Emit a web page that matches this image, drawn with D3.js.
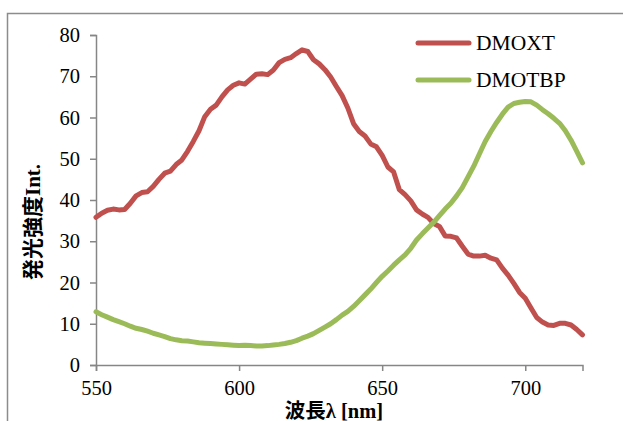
<!DOCTYPE html>
<html>
<head>
<meta charset="utf-8">
<script src="https://cdn.jsdelivr.net/npm/d3@7"></script>
<style>
  body { margin: 0; background: #fff; }
  svg text { font-family: "Liberation Serif", "Times New Roman", "DejaVu Serif", "Noto Sans CJK JP", serif; fill: #000; }
</style>
</head>
<body>
<div id="chart"></div>
<script>
// wavelength, 2nm steps
var wavelengths = d3.range(550, 722, 2);

var dmoxt = [35.8, 36.8, 37.5, 37.8, 37.6, 37.7, 39.2, 41.0, 41.8, 42.0,
    43.3, 45.0, 46.5, 47.0, 48.6, 49.7, 51.8, 54.2, 56.8, 60.2,
    62.0, 63.0, 65.0, 66.7, 67.8, 68.4, 68.1, 69.3, 70.5, 70.6,
    70.4, 71.5, 73.3, 74.1, 74.5, 75.5, 76.4, 76.0, 74.0, 73.0,
    71.6, 69.8, 67.5, 65.3, 62.3, 58.5, 56.6, 55.5, 53.6, 52.9,
    50.8, 48.0, 46.8, 42.5, 41.3, 39.8, 37.6, 36.6, 35.8, 34.3,
    33.6, 31.3, 31.2, 30.8, 28.8, 26.9, 26.4, 26.4, 26.6, 25.9,
    25.5, 23.5, 21.8, 19.8, 17.6, 16.2, 13.8, 11.5, 10.4, 9.7,
    9.6, 10.1, 10.1, 9.7, 8.6, 7.3];

var dmotbp = [12.9, 12.2, 11.6, 11.0, 10.5, 10.0, 9.4, 8.9, 8.6, 8.2,
    7.7, 7.3, 6.9, 6.4, 6.1, 5.9, 5.8, 5.6, 5.4, 5.3,
    5.2, 5.1, 5.0, 4.9, 4.8, 4.7, 4.8, 4.7, 4.6, 4.6,
    4.7, 4.85, 5.0, 5.2, 5.5, 5.9, 6.5, 7.0, 7.6, 8.4,
    9.2, 10.0, 11.0, 12.1, 13.0, 14.2, 15.6, 17.0, 18.4, 20.0,
    21.5, 22.8, 24.2, 25.5, 26.7, 28.3, 30.3, 31.8, 33.2, 34.6,
    36.2, 37.8, 39.2, 41.0, 43.0, 45.6, 48.2, 51.2, 54.2, 56.6,
    58.8, 60.8, 62.5, 63.4, 63.7, 63.9, 63.8, 63.0, 61.9, 60.9,
    59.8, 58.6, 56.8, 54.5, 51.8, 49.0];

var seriesNames = ["DMOXT", "DMOTBP"];
var seriesColors = ["#C0504D", "#9BBB59"];
var xTicks = [550, 600, 650, 700];
var yTicks = [0, 10, 20, 30, 40, 50, 60, 70, 80];

var W = 623, H = 421;
var serif = "'Liberation Serif', 'Times New Roman', 'DejaVu Serif', 'Noto Sans CJK JP', serif";

var svg = d3.select("#chart").append("svg")
    .attr("width", W)
    .attr("height", H);

// outer frame (runs off the picture on the right and bottom)
svg.append("rect")
    .attr("x", 7.5).attr("y", 13.5)
    .attr("width", 700).attr("height", 500)
    .attr("fill", "none")
    .attr("stroke", "#8c8c8c")
    .attr("stroke-width", 1.5);

var x = d3.scaleLinear().domain([550, 720]).range([96, 582.5]);
var y = d3.scaleLinear().domain([0, 80]).range([365, 35]);

// y axis
var yAxis = svg.append("g")
    .attr("transform", "translate(96,0)")
    .call(d3.axisLeft(y).tickValues(yTicks).tickSize(6).tickPadding(10));
yAxis.attr("font-family", serif).attr("font-size", 20.5);
yAxis.select(".domain").attr("stroke", "#868686").attr("stroke-width", 1.5);
yAxis.selectAll(".tick line").attr("stroke", "#868686").attr("stroke-width", 1.5);

// x axis
var xAxis = svg.append("g")
    .attr("transform", "translate(0,365)")
    .call(d3.axisBottom(x).tickValues(xTicks).tickSize(6).tickPadding(9.5));
xAxis.attr("font-family", serif).attr("font-size", 20.5);
xAxis.select(".domain").attr("stroke", "#868686").attr("stroke-width", 1.5);
xAxis.selectAll(".tick line").attr("stroke", "#868686").attr("stroke-width", 1.5);

// lines
var allSeries = [dmoxt, dmotbp];
var line = d3.line()
    .x(function(d, i) { return x(wavelengths[i]); })
    .y(function(d) { return y(d); });

allSeries.forEach(function(s, k) {
    svg.append("path")
        .datum(s)
        .attr("d", line)
        .attr("fill", "none")
        .attr("stroke", seriesColors[k])
        .attr("stroke-width", 5)
        .attr("stroke-linejoin", "round")
        .attr("stroke-linecap", "round");
});

// axis titles
svg.append("text")
    .attr("transform", "translate(40,222) rotate(-90)")
    .attr("text-anchor", "middle")
    .attr("font-size", 21)
    .attr("font-weight", "bold")
    .text("発光強度Int.");

svg.append("text")
    .attr("x", 334).attr("y", 418)
    .attr("text-anchor", "middle")
    .attr("font-size", 20.5)
    .attr("font-weight", "bold")
    .text("波長λ [nm]");

// legend
var legend = svg.append("g");
seriesNames.forEach(function(name, k) {
    var ly = 43 + k * 37;
    legend.append("line")
        .attr("x1", 418).attr("x2", 469)
        .attr("y1", ly).attr("y2", ly)
        .attr("stroke", seriesColors[k])
        .attr("stroke-width", 5)
        .attr("stroke-linecap", "round");
    legend.append("text")
        .attr("x", 476).attr("y", ly + 7)
        .attr("font-size", 21.5)
        .text(name);
});
</script>
</body>
</html>
